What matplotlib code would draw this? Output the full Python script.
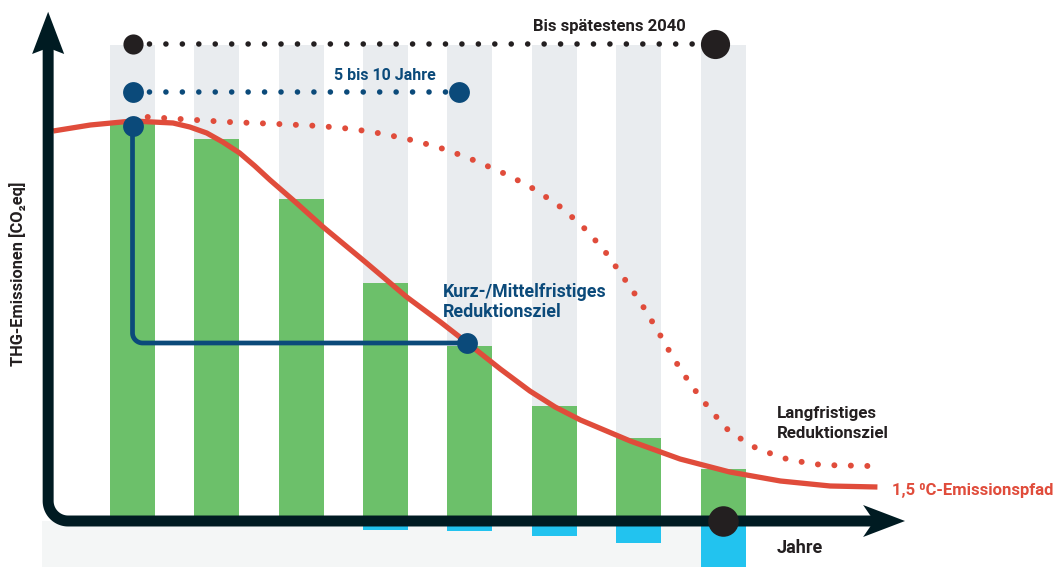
import numpy as np
import matplotlib.pyplot as plt
from matplotlib.patches import Polygon

plt.rcParams['font.family'] = ['Roboto', 'DejaVu Sans']
plt.rcParams['font.weight'] = 'bold'

# Daten: Balken pro Jahr (Index 0..7), Emissionen in relativen Einheiten
jahre = [0, 1, 2, 3, 4, 5, 6, 7]
emissionen = [100, 95.5, 80.5, 59.5, 43.75, 28.75, 20.75, 13]
kompensation = [0, 0, 0, -2.25, -2.5, -3.75, -5.5, -12]
hintergrund_hoehe = 119

# 1,5 Grad Emissionspfad (durchgezogen)
pfad_x = [-0.94, -0.5, 0.0, 0.48, 0.68, 0.88, 1.07, 1.27, 1.45, 1.63, 1.93, 2.26,
          2.76, 3.25, 3.65, 3.97, 4.36, 4.71, 5.01, 5.31, 5.9,
          6.49, 7.08, 7.68, 8.27, 8.83]
pfad_y = [97.5, 99, 100, 99.5, 98.5, 97, 94.75, 92, 88.75, 85.25, 79.75, 73.5,
          64.75, 56, 49.75, 44.5, 38, 32.5, 28.5, 25.25, 20,
          15.5, 12.25, 10, 8.75, 8.5]

# langfristiger Reduktionspfad (gepunktet)
lang_x = [0.18, 0.56, 1.14, 1.73, 2.22, 2.61, 2.98, 3.36, 3.73, 4.07, 4.42, 4.7,
          5.03, 5.32, 5.58, 5.8, 6.02, 6.22, 6.41, 6.62, 6.86, 7.08, 7.41, 7.79,
          8.17, 8.74]
lang_y = [101, 100.5, 99.75, 99.25, 98.75, 98, 96.75, 95, 92.75, 90, 86.75, 83.75,
          79.25, 74, 68, 61.5, 54.75, 47.75, 40.75, 34, 27.5, 22.25, 18, 15.25,
          14, 13.75]

# Markierungen
ziel_2040_x = [0, 6.9]
ziel_2040_y = 119.25
ziel_kurz_x = [0, 3.87]
ziel_kurz_y = 107.25
reduktion_x = [0, 3.97]
reduktion_y = [98.75, 44.5]
jahr_2040 = 7

# Farben
grau = '#E9ECEF'
gruen = '#6CC06A'
cyan = '#22C3EF'
blau = '#0B4A7A'
rot = '#E04C3B'
schwarz = '#231F20'
achse = '#001B22'

fig = plt.figure(figsize=(10.54, 5.67), dpi=100)
ax = fig.add_axes([0, 0, 1, 1])
ax.set_xlim(-1.5707, 10.923)
ax.set_ylim(-11.5, 130.25)
ax.axis('off')

breite = 0.533

# Hintergrund
ax.bar(jahre, [hintergrund_hoehe] * len(jahre), width=breite, color=grau, zorder=1)
ax.fill_between([-1.073, 7.26], -11.5, 0, color='#F4F6F6', zorder=1, lw=0)

# Balken
ax.bar(jahre, emissionen, width=breite, color=gruen, zorder=2)
ax.bar(jahre, kompensation, width=breite, color=cyan, zorder=2)

# Kurven
ax.plot(pfad_x, pfad_y, color=rot, lw=3.8, zorder=3, solid_capstyle='butt',
        solid_joinstyle='round')
ax.plot(lang_x, lang_y, color=rot, lw=4.3, ls=(0, (0.01, 2.75)),
        dash_capstyle='round', zorder=3)

# Achsen mit abgerundeter Ecke
rx, ry = 0.237, 5
t = np.linspace(np.pi, 1.5 * np.pi, 30)
ecke_x = -1 + rx + rx * np.cos(t)
ecke_y = ry + ry * np.sin(t)
ax_x = np.concatenate([[-1, -1], ecke_x, [8.8]])
ax_y = np.concatenate([[118.5, ry], ecke_y, [0]])
ax.plot(ax_x, ax_y, color=achse, lw=7.9, solid_capstyle='butt',
        solid_joinstyle='round', zorder=5)
ax.add_patch(Polygon([[-1, 127.3], [-0.81, 116.75], [-1, 118.3], [-1.19, 116.75]],
                     closed=True, color=achse, zorder=5, lw=0))
ax.add_patch(Polygon([[9.157, 0], [8.66, 4], [8.79, 0], [8.66, -4]],
                     closed=True, color=achse, zorder=5, lw=0))

# Kurz-/Mittelfristiges Ziel (blaue Linie)
r2x, r2y = 0.12, 2.5
t2 = np.linspace(np.pi, 1.5 * np.pi, 20)
bx = np.concatenate([[reduktion_x[0]], reduktion_x[0] + r2x + r2x * np.cos(t2), [reduktion_x[1]]])
by = np.concatenate([[reduktion_y[0]], reduktion_y[1] + r2y + r2y * np.sin(t2), [reduktion_y[1]]])
ax.plot(bx, by, color=blau, lw=3.4, zorder=4, solid_capstyle='butt')
ax.plot(reduktion_x, reduktion_y, 'o', color=blau, ms=15, mew=0, zorder=6)

# gepunktete Zeitlinien
ax.plot(ziel_2040_x, [ziel_2040_y] * 2, color=schwarz, lw=4, ls=(0, (0.01, 2.95)),
        dash_capstyle='round', zorder=4)
ax.plot(ziel_2040_x[0], ziel_2040_y, 'o', color=schwarz, ms=14.5, mew=0, zorder=6)
ax.plot(ziel_2040_x[1], ziel_2040_y, 'o', color=schwarz, ms=21, mew=0, zorder=6)

ax.plot(ziel_kurz_x, [ziel_kurz_y] * 2, color=blau, lw=4, ls=(0, (0.01, 2.95)),
        dash_capstyle='round', zorder=4)
ax.plot(ziel_kurz_x, [ziel_kurz_y] * 2, 'o', color=blau, ms=15, mew=0, zorder=6)

ax.plot(jahr_2040, 0, 'o', color=schwarz, ms=22, mew=0, zorder=6)

# Beschriftungen
ax.text(6.56, 122.5, 'Bis spätestens 2040', color=schwarz, fontsize=12,
        ha='right', va='baseline')
ax.text(2.99, 110.25, '5 bis 10 Jahre', color=blau, fontsize=11.5,
        ha='center', va='baseline')
ax.text(3.68, 56, 'Kurz-/Mittelfristiges', color=blau, fontsize=12.8, va='baseline')
ax.text(3.68, 51, 'Reduktionsziel', color=blau, fontsize=12.8, va='baseline')
ax.text(7.64, 25.75, 'Langfristiges', color=schwarz, fontsize=12.2, va='baseline')
ax.text(7.64, 20.75, 'Reduktionsziel', color=schwarz, fontsize=12.2, va='baseline')
ax.text(9.0, 6.5, '1,5 \u2070C-Emissionspfad', color=rot, fontsize=12, va='baseline')
ax.text(7.64, -8, 'Jahre', color=schwarz, fontsize=13, va='baseline')
ax.text(-1.357, 61.75, 'THG-Emissionen [CO\u2082eq]', color=schwarz, fontsize=11.8,
        rotation=90, ha='center', va='center')

fig.savefig('out.png', dpi=100)
